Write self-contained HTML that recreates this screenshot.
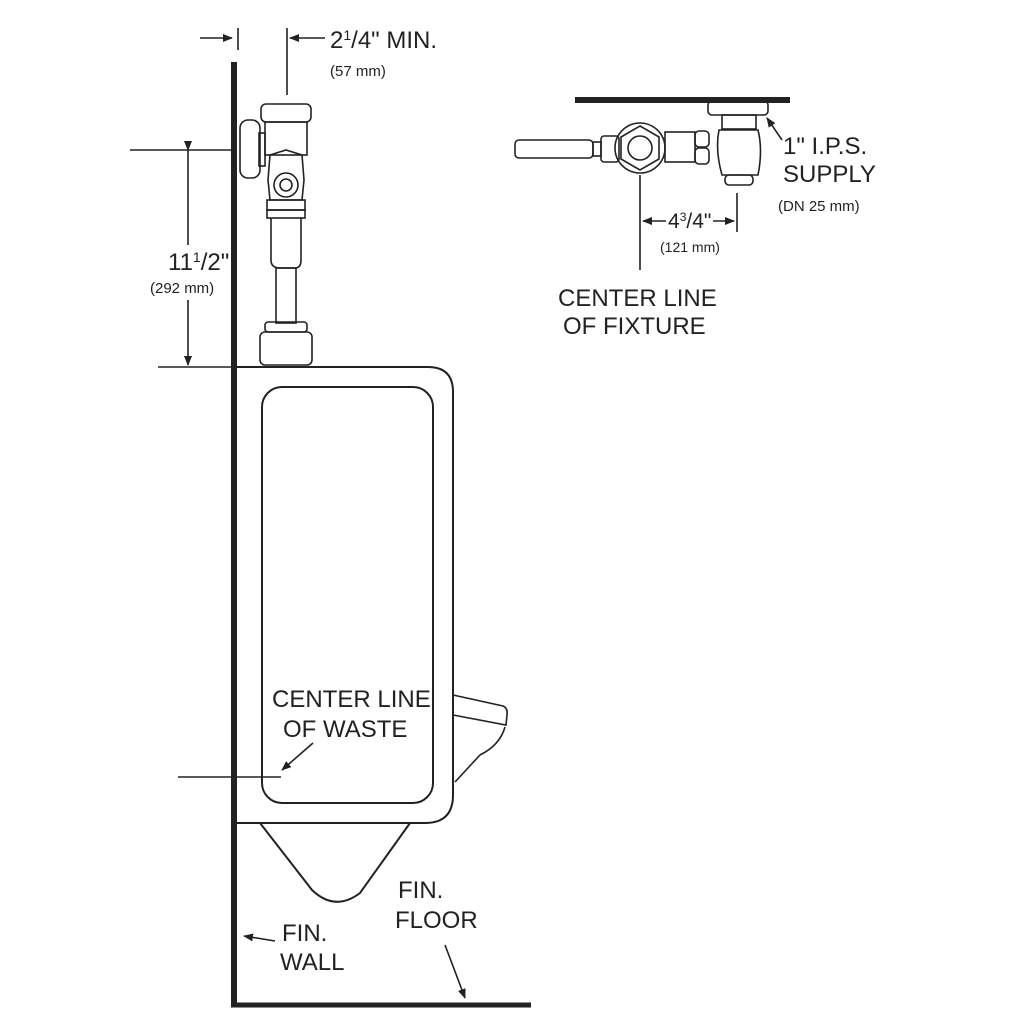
<!DOCTYPE html>
<html><head><meta charset="utf-8"><style>body{margin:0;background:#fff}svg{display:block}text{font-family:"Liberation Sans",sans-serif;fill:#222}</style></head><body>
<svg width="1024" height="1024" viewBox="0 0 1024 1024" xmlns="http://www.w3.org/2000/svg">
<defs><marker id="a" markerWidth="10" markerHeight="8" refX="9" refY="4" orient="auto" markerUnits="userSpaceOnUse"><path d="M0,0 L10,4 L0,8 Z" fill="#222"/></marker></defs>
<g stroke="#222" fill="none" stroke-width="1.6">
<line x1="234" y1="62" x2="234" y2="1007" stroke-width="6"/>
<line x1="231" y1="1005" x2="531" y2="1005" stroke-width="5"/>
<line x1="575" y1="100" x2="790" y2="100" stroke-width="6"/>
<path d="M237,367 H428 Q453,367 453,392 V795 Q453,823 425,823 H237" stroke-width="2"/>
<rect x="262" y="387" width="171" height="416" rx="20" stroke-width="2"/>
<path d="M260,823 L312,890 Q335,912 360,893 L410,823" stroke-width="2"/>
<path d="M453,695 L503,706 Q508,708 507,715 L506,725 L453,715"/>
<path d="M505,727 Q500,745 480,755 L455,782"/>
<line x1="130" y1="150" x2="234" y2="150"/>
<line x1="158" y1="367" x2="237" y2="367"/>
<line x1="188" y1="150" x2="188" y2="245" marker-start="url(#a)"/>
<line x1="188" y1="300" x2="188" y2="365" marker-end="url(#a)"/>
<line x1="200" y1="38" x2="232" y2="38" marker-end="url(#a)"/>
<line x1="238" y1="28" x2="238" y2="50"/>
<line x1="287" y1="28" x2="287" y2="95"/>
<line x1="325" y1="38" x2="290" y2="38" marker-end="url(#a)"/>
<line x1="178" y1="777" x2="281" y2="777"/>
<line x1="313" y1="743" x2="282" y2="770" marker-end="url(#a)"/>
<line x1="275" y1="941" x2="244" y2="936" marker-end="url(#a)"/>
<line x1="445" y1="945" x2="465" y2="998" marker-end="url(#a)"/>
<rect x="240" y="120" width="20" height="58" rx="8"/>
<rect x="259" y="133" width="6" height="33"/>
<rect x="261" y="104" width="50" height="18" rx="5"/>
<rect x="265" y="122" width="42" height="33"/>
<path d="M270,155 L286,150 L302,155 L304,180 L302,200 L270,200 L268,180 Z"/>
<circle cx="286" cy="185" r="12"/><circle cx="286" cy="185" r="6"/>
<rect x="267" y="200" width="38" height="10"/>
<rect x="267" y="210" width="38" height="8"/>
<path d="M271,218 V260 Q271,268 280,268 H295 Q301,268 301,260 V218"/>
<rect x="276" y="268" width="20" height="55"/>
<rect x="265" y="322" width="42" height="10" rx="3"/>
<rect x="260" y="332" width="52" height="33" rx="5"/>
<rect x="515" y="140" width="78" height="18" rx="4"/>
<rect x="593" y="142" width="8" height="14"/>
<rect x="601" y="136" width="18" height="26" rx="3"/>
<circle cx="640" cy="148" r="25"/>
<polygon points="640,126 659,137 659,159 640,170 621,159 621,137"/>
<circle cx="640" cy="148" r="12"/>
<rect x="665" y="132" width="30" height="30"/>
<rect x="695" y="131" width="14" height="16" rx="4"/><rect x="695" y="148" width="14" height="16" rx="4"/>
<rect x="708" y="101" width="60" height="14" rx="4"/>
<rect x="722" y="115" width="34" height="14"/>
<path d="M719,130 H758 Q763,150 758,175 H722 Q715,150 719,130 Z"/>
<rect x="725" y="175" width="28" height="10" rx="4"/>
<line x1="640" y1="175" x2="640" y2="270"/>
<line x1="737" y1="193" x2="737" y2="232"/>
<line x1="666" y1="221" x2="643" y2="221" marker-end="url(#a)"/>
<line x1="713" y1="221" x2="734" y2="221" marker-end="url(#a)"/>
<line x1="782" y1="140" x2="767" y2="118" marker-end="url(#a)"/>
</g>
<g font-size="24">
<text x="330" y="48">2<tspan font-size="14" dy="-8">1</tspan><tspan dy="8">/4" MIN.</tspan></text>
<text x="330" y="76" font-size="15">(57 mm)</text>
<text x="168" y="270">11<tspan font-size="14" dy="-8">1</tspan><tspan dy="8">/2"</tspan></text>
<text x="150" y="293" font-size="15">(292 mm)</text>
<text x="272" y="707">CENTER LINE</text>
<text x="283" y="737">OF  WASTE</text>
<text x="282" y="941">FIN.</text>
<text x="280" y="970">WALL</text>
<text x="398" y="898">FIN.</text>
<text x="395" y="928">FLOOR</text>
<text x="783" y="154">1"  I.P.S.</text>
<text x="783" y="182">SUPPLY</text>
<text x="778" y="211" font-size="15">(DN  25 mm)</text>
<text x="668" y="228" font-size="21">4<tspan font-size="12" dy="-7">3</tspan><tspan dy="7">/4"</tspan></text>
<text x="660" y="252" font-size="14">(121 mm)</text>
<text x="558" y="306">CENTER LINE</text>
<text x="563" y="334">OF  FIXTURE</text>
</g>
</svg>
</body></html>
